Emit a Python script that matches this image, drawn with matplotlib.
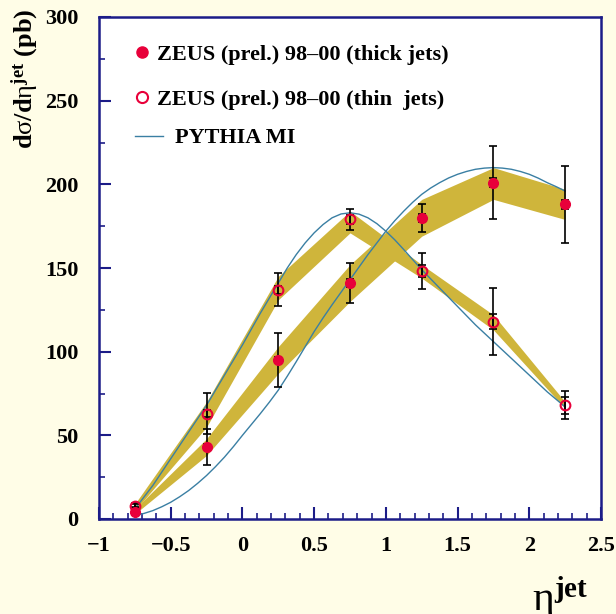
import numpy as np
import matplotlib
matplotlib.use("Agg")
import matplotlib.pyplot as plt
from matplotlib.lines import Line2D

plt.rcParams['font.family'] = ['Liberation Serif', 'DejaVu Serif']
plt.rcParams['font.weight'] = 'bold'
plt.rcParams['mathtext.fontset'] = 'custom'
plt.rcParams['mathtext.rm'] = 'Liberation Serif:bold'
plt.rcParams['mathtext.bf'] = 'Liberation Serif:bold'
plt.rcParams['mathtext.it'] = 'Liberation Serif:bold:italic'
plt.rcParams['mathtext.sf'] = 'Liberation Serif:weight=normal'  # greek letters

# data points
eta = [-0.75, -0.25, 0.25, 0.75, 1.25, 1.75, 2.25]
thick = [4, 43, 95, 141, 180, 201, 188]
thick_tot = [1.5, 10.5, 16, 12, 8.5, 22, 23]
thick_stat = [1, 2, 2, 2.5, 2.5, 2.5, 2.5]
thin = [8, 63, 137, 179, 148, 118, 68]
thin_tot = [1.5, 12.5, 10, 6.5, 10.7, 20, 8.3]
thin_stat = [1, 2, 2.5, 2.5, 3.5, 4.3, 5]

# systematic bands (energy scale)
thick_lo = [3, 38, 87, 130, 169, 191, 179]
thick_hi = [6, 48, 103, 152, 191, 210, 197]
thin_lo = [5, 55, 131, 171, 144, 113, 66]
thin_hi = [9, 70, 145, 184, 152, 122, 70]

# PYTHIA MI curves
eta_mc = [-0.75, -0.6875, -0.625, -0.5625, -0.5, -0.4375, -0.375, -0.3125,
          -0.25, -0.1875, -0.125, -0.0625, 0.0, 0.0625, 0.125, 0.1875, 0.25,
          0.3125, 0.375, 0.4375, 0.5, 0.5625, 0.625, 0.6875, 0.75, 0.8125,
          0.875, 0.9375, 1.0, 1.0625, 1.125, 1.1875, 1.25, 1.3125, 1.375,
          1.4375, 1.5, 1.5625, 1.625, 1.6875, 1.75, 1.8125, 1.875, 1.9375,
          2.0, 2.0625, 2.125, 2.1875, 2.25]
mc_thin = [6, 13, 20, 28, 36, 44, 52, 60, 68, 77, 86, 95, 104, 113.5, 123, 132,
           141, 150, 158, 165, 171, 176, 180, 182.3, 183, 182.2, 180, 176.5,
           172, 166.8, 161, 155, 149, 143.5, 138, 132.5, 127, 121.5, 116, 111,
           106, 101, 96, 91, 86, 81, 76, 71.5, 67]
mc_thick = [2, 3.3, 5, 7.3, 10, 13.3, 17, 21.3, 26, 31.3, 37, 43.3, 50, 56.5, 63,
            69.8, 77, 85.3, 94, 103, 112, 120.2, 128, 135.5, 143, 150.5, 158,
            165, 172, 178.3, 184, 189.3, 194, 197.8, 201, 203.8, 206, 207.7,
            209, 209.7, 210, 209.7, 209, 207.7, 206, 203.7, 201, 198.6, 196]

bg = '#fffde7'
navy = '#1c1c88'
gold = '#cfb53b'
red = '#e8003a'
blue = '#3a7fa3'

fig = plt.figure(figsize=(6.16, 6.14), dpi=100, facecolor=bg)
ax = fig.add_axes([99/616, 1-519/614, 502/616, 502/614])
ax.set_facecolor('white')

ax.fill_between(eta, thick_lo, thick_hi, color=gold, lw=0, zorder=1)
ax.fill_between(eta, thin_lo, thin_hi, color=gold, lw=0, zorder=1)
ax.plot(eta_mc, mc_thin, color=blue, lw=1.0, zorder=2)
ax.plot(eta_mc, mc_thick, color=blue, lw=1.0, zorder=2)

for y, tot, st in [(thick, thick_tot, thick_stat), (thin, thin_tot, thin_stat)]:
    ax.errorbar(eta, y, yerr=tot, fmt='none', ecolor='black', elinewidth=1.2,
                capsize=3, capthick=1.2, zorder=3)
    ax.errorbar(eta, y, yerr=st, fmt='none', ecolor='black', elinewidth=1.2,
                capsize=3, capthick=1.2, zorder=3)
ax.plot(eta, thick, 'o', color=red, ms=7, mec=red, zorder=4)
ax.plot(eta, thin, 'o', mfc='none', mec=red, mew=1.5, ms=7, zorder=4)

ax.set_xlim(-1, 2.5)
ax.set_ylim(0, 300)
ax.set_xticks(np.arange(-1, 2.51, 0.5))
ax.set_xticks(np.arange(-1, 2.51, 0.1), minor=True)
ax.set_yticks(np.arange(0, 301, 50))
ax.set_yticks(np.arange(0, 301, 25), minor=True)
ax.set_xticklabels(['\u22121', '\u22120.5', '0', '0.5', '1', '1.5', '2', '2.5'])
ax.tick_params(axis='both', which='both', direction='in', color=navy,
               top=False, right=False, labelsize=16)
ax.tick_params(axis='x', which='major', length=9, width=1.5, pad=12)
ax.tick_params(axis='x', which='minor', length=4.5, width=1.2)
ax.tick_params(axis='y', which='major', length=8.5, width=1.5, pad=15)
ax.tick_params(axis='y', which='minor', length=4.5, width=1.2)
for s in ax.spines.values():
    s.set_color(navy)
    s.set_linewidth(1.8)

# legend
h1 = Line2D([], [], ls='none', marker='o', color=red, ms=8)
h2 = Line2D([], [], ls='none', marker='o', mfc='none', mec=red, mew=1.5, ms=8)
leg1 = ax.legend([h1, h2], ['ZEUS (prel.) 98\u201300 (thick jets)',
                            'ZEUS (prel.) 98\u201300 (thin  jets)'],
                 loc='upper left', bbox_to_anchor=(0.0695, 0.945), frameon=False,
                 fontsize=16, handlelength=0.7, handletextpad=0.34,
                 labelspacing=1.09, borderpad=0, borderaxespad=0)
ax.add_artist(leg1)
h3 = Line2D([], [], color=blue, lw=1.0)
ax.legend([h3], ['PYTHIA MI'], loc='upper left', bbox_to_anchor=(0.0717, 0.779),
          frameon=False, fontsize=16, handlelength=1.26, handletextpad=0.54,
          borderpad=0, borderaxespad=0)

fig.text(25/616, 1-9/614, r'd$\mathsf{\sigma}$/d$\mathsf{\eta}^{\mathbf{jet}}$ (pb)',
         rotation=90, ha='center', va='top', fontsize=19)
fig.text(532/616, 1-610/614, r'$\mathsf{\eta}^{\mathbf{jet}}$', ha='left',
         va='baseline', fontsize=30)

fig.savefig('out.png', dpi=100, facecolor=bg)
